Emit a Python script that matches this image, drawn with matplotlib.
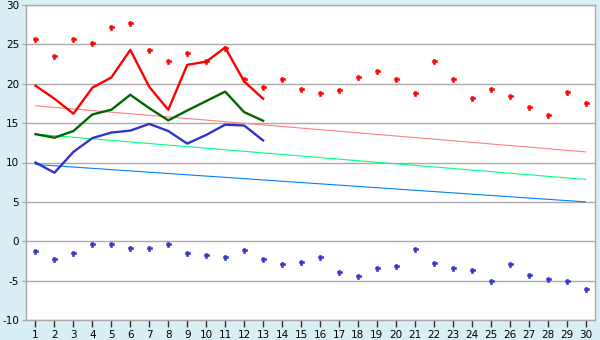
import numpy as np
import matplotlib
matplotlib.use("Agg")
import matplotlib.pyplot as plt

plt.rcParams["axes.unicode_minus"] = False

# ======================================
# Data
# ======================================

days = list(range(1, 31))
days_short = list(range(1, 14))

red_points = [25.7, 23.5, 25.7, 25.2, 27.2, 27.7, 24.3, 22.9, 23.9, 22.9,
              24.6, 20.6, 19.6, 20.6, 19.3, 18.8, 19.2, 20.9, 21.6, 20.6,
              18.8, 22.9, 20.6, 18.15, 19.3, 18.5, 17.0, 16.0, 18.9, 17.5]

blue_points = [-1.2, -2.3, -1.55, -0.4, -0.3, -0.8, -0.8, -0.3, -1.55, -1.7,
               -2.05, -1.05, -2.2, -2.95, -2.6, -2.05, -3.85, -4.35, -3.45, -3.1,
               -0.95, -2.7, -3.45, -3.6, -5.0, -2.95, -4.25, -4.75, -5.0, -6.0]

red_line = [19.75, 18.1, 16.2, 19.5, 20.8, 24.3, 19.6, 16.7, 22.4, 22.8,
            24.6, 20.3, 18.1]
green_line = [13.6, 13.15, 14.0, 16.1, 16.7, 18.6, 16.9, 15.35, 16.6, 17.8,
              19.0, 16.4, 15.3]
blue_line = [10.0, 8.7, 11.35, 13.1, 13.8, 14.05, 14.9, 14.0, 12.4, 13.5,
             14.8, 14.7, 12.8]

# trend lines: value at day 1 and day 30
trend_x = [1, 30]
trend_red = [17.2, 11.35]
trend_green = [13.6, 7.85]
trend_blue = [9.75, 5.0]

# ======================================
# Plot
# ======================================

bg = "#D9EFF6"
grid_col = "#AAAAAA"

fig = plt.figure(figsize=(6, 3.4), dpi=100, facecolor=bg)
ax = fig.add_axes([26/600, 1-320/340, (595-26)/600, (320-5)/340])
ax.set_facecolor("white")

ax.plot(trend_x, trend_red, color="#FF8080", linewidth=0.8, zorder=2)
ax.plot(trend_x, trend_green, color="#00FF80", linewidth=0.8, zorder=2)
ax.plot(trend_x, trend_blue, color="#0080FF", linewidth=0.8, zorder=2)

ax.plot(days_short, red_line, color="#FF0000", linewidth=1.7, zorder=3)
ax.plot(days_short, green_line, color="#006600", linewidth=1.7, zorder=3)
ax.plot(days_short, blue_line, color="#3333CC", linewidth=1.7, zorder=3)

ax.plot(days, red_points, linestyle="none", marker="P", markersize=3.6,
        color="#FF0000", markeredgewidth=0.4, zorder=4)
ax.plot(days, blue_points, linestyle="none", marker="P", markersize=3.6,
        color="#3333CC", markeredgewidth=0.4, zorder=4)

ax.set_xlim(0.5, 30.5)
ax.set_ylim(-10, 30)
ax.set_xticks(days)
ax.set_yticks(range(-10, 31, 5))
ax.yaxis.grid(True, color=grid_col, linewidth=1)
ax.set_axisbelow(True)

for side in ["left", "bottom", "right", "top"]:
    ax.spines[side].set_color(grid_col)
    ax.spines[side].set_linewidth(1)

ax.tick_params(axis="both", colors="#000000", labelsize=7.5, width=1, pad=2)
ax.tick_params(axis="y", color=grid_col, length=3)
ax.tick_params(axis="x", color="#333333", length=5)

plt.savefig("out.png", dpi=100, facecolor=bg)
